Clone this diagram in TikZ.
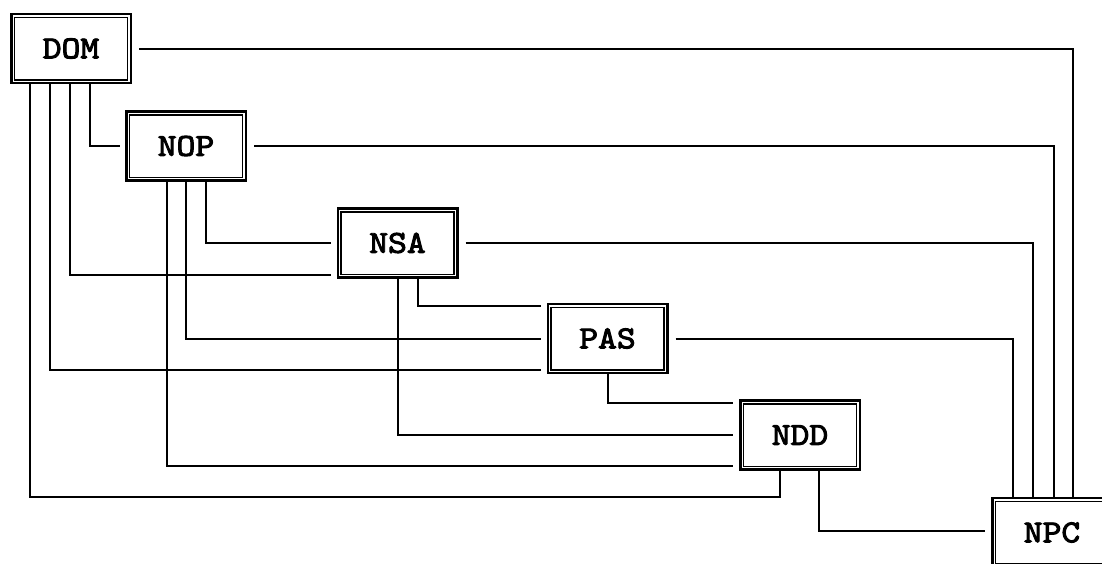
\documentclass[tikz,border=0pt]{standalone}
\usepackage{fontspec}
\newfontfamily\boxfont{lmmono10-regular.otf}[FakeStretch=1.12,FakeBold=3]
\begin{document}
\begin{tikzpicture}[x=1pt,y=-1pt,
  box/.style={draw, line width=2.5pt, minimum width=119.5pt, minimum height=69pt,
    inner sep=0pt, font=\boxfont\fontsize{32}{32}\selectfont},
  conn/.style={line width=2pt}]
\clip (0,0) rectangle (1102,563);
\node[box] (DOM) at (71,48.5) {DOM};
\node[box] (NOP) at (186,146) {NOP};
\node[box] (NSA) at (397.5,243) {NSA};
\node[box] (PAS) at (607.5,338.5) {PAS};
\node[box] (NDD) at (800,435) {NDD};
\node[box] (NPC) at (1052,532.5) {NPC};
\foreach \n in {DOM,NOP,NSA,PAS,NDD,NPC}
  \draw[line width=1.5pt] ([shift={(4.5,4.5)}]\n.north west) rectangle ([shift={(-4.5,-4.5)}]\n.south east);
% from DOM
\draw[conn] ([xshift=19]DOM.south) |- ([xshift=-5]NOP.west);
\draw[conn] ([xshift=-1]DOM.south) |- ([xshift=-6,yshift=-31.5]NSA.west);
\draw[conn] ([xshift=-21]DOM.south) |- ([xshift=-6,yshift=-31.5]PAS.west);
\draw[conn] ([xshift=-41]DOM.south) -- ++(0,413) -| ([xshift=-20]NDD.south);
\draw[conn] ([xshift=7]DOM.east) -| ([xshift=21]NPC.north);
% from NOP
\draw[conn] ([xshift=20]NOP.south) |- ([xshift=-6]NSA.west);
\draw[conn] (NOP.south) |- ([xshift=-6]PAS.west);
\draw[conn] ([xshift=-19.5]NOP.south) |- ([xshift=-6,yshift=-31]NDD.west);
\draw[conn] ([xshift=7]NOP.east) -| ([xshift=2]NPC.north);
% from NSA
\draw[conn] ([xshift=20]NSA.south) |- ([xshift=-6,yshift=32.5]PAS.west);
\draw[conn] ([xshift=0.5]NSA.south) |- ([xshift=-6]NDD.west);
\draw[conn] ([xshift=7]NSA.east) -| ([xshift=-19]NPC.north);
% from PAS
\draw[conn] (PAS.south) |- ([xshift=-6,yshift=32]NDD.west);
\draw[conn] ([xshift=7]PAS.east) -| ([xshift=-39]NPC.north);
% from NDD
\draw[conn] ([xshift=19]NDD.south) |- ([xshift=-6,yshift=2]NPC.west);
\end{tikzpicture}
\end{document}
